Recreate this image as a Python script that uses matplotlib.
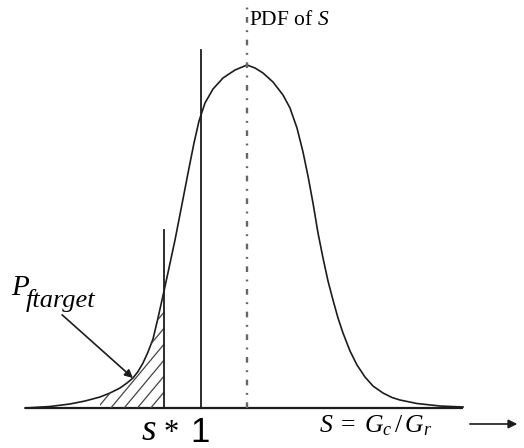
import numpy as np
import matplotlib
matplotlib.use("Agg")
import matplotlib.pyplot as plt

plt.rcParams.update({
    "font.family": "Liberation Serif",
    "mathtext.fontset": "custom",
    "mathtext.rm": "Liberation Serif",
    "mathtext.it": "Liberation Serif:italic",
    "mathtext.bf": "Liberation Serif:bold",
})

# ── Data (S in units of the "1" mark, pdf normalised to peak = 1) ────────────

s_left = [0.1241, 0.2481, 0.3474, 0.4218, 0.4963, 0.5459, 0.5955, 0.6303,
          0.6600, 0.6849, 0.7097, 0.7345, 0.7593, 0.7841, 0.8139, 0.8387,
          0.8685, 0.9082, 0.9380, 0.9628, 0.9876, 1.0174, 1.0571, 1.1067,
          1.1663, 1.2258]
pdf_left = [0.0000, 0.0044, 0.0117, 0.0204, 0.0321, 0.0437, 0.0583, 0.0729,
            0.0875, 0.1064, 0.1312, 0.1633, 0.2012, 0.2624, 0.3411, 0.4082,
            0.4898, 0.6093, 0.6997, 0.7726, 0.8367, 0.8892, 0.9300, 0.9621,
            0.9854, 1.0000]
s_right = [1.2655, 1.3052, 1.3548, 1.4045, 1.4392, 1.4739, 1.5037, 1.5285,
           1.5533, 1.5782, 1.6030, 1.6278, 1.6526, 1.6774, 1.7022, 1.7370,
           1.7717, 1.8114, 1.8511, 1.9007, 1.9454, 1.9851, 2.0695, 2.1836,
           2.2978]
pdf_right = [0.9913, 0.9767, 0.9504, 0.9125, 0.8746, 0.8163, 0.7464, 0.6764,
             0.5977, 0.5102, 0.4373, 0.3703, 0.3149, 0.2624, 0.2187, 0.1662,
             0.1254, 0.0904, 0.0641, 0.0437, 0.0306, 0.0233, 0.0131, 0.0058,
             0.0029]

s_star = 0.814          # target threshold s*
s_one = 1.0             # S = 1
s_peak = 1.226          # mode of the pdf
hatch_from = 0.44       # left edge of the hatched tail
s_star_top = 0.519      # height of the s* marker line
one_top = 1.044         # height of the S = 1 marker line

s = np.array(s_left + s_right)
pdf = np.array(pdf_left + pdf_right)

# ── Figure ───────────────────────────────────────────────────────────────────

fig = plt.figure(figsize=(5.24, 4.48), dpi=100)
ax = fig.add_axes([0, 0, 1, 1])
ax.set_xlim(0, 2.6005)
ax.set_ylim(-0.1166, 1.1895)
ax.axis("off")

ink = "#1c1c1c"

# baseline
ax.plot([s[0], s[-1]], [0, 0], color=ink, lw=1.6, solid_capstyle="butt")
# pdf curve
ax.plot(s, pdf, color=ink, lw=1.2, solid_joinstyle="round")

# hatched tail P_ftarget (lines clipped to the area under the curve)
mask = (s >= hatch_from) & (s < s_star)
tail_s = np.concatenate([s[mask], [s_star]])
tail_p = np.concatenate([pdf[mask], [np.interp(s_star, s, pdf)]])
tail = ax.fill_between(tail_s, 0, tail_p, facecolor="none", linewidth=0)
clip = tail.get_paths()[0]
slope = 0.705
step = 0.066
for k in range(12):
    x0 = s_star - k * step
    ln, = ax.plot([x0, x0 + 1.0], [0, slope], color="#444444", lw=0.9)
    ln.set_clip_path(clip, ax.transData)

# vertical markers
ax.plot([s_star, s_star], [0, s_star_top], color=ink, lw=1.3)
ax.plot([s_one, s_one], [0, one_top], color=ink, lw=1.3)
ax.plot([s_peak, s_peak], [0, 1.19], color="#666666", lw=1.7,
        linestyle=(0, (2.4, 3.2, 0.8, 3.2)))

# labels
ax.text(1.236, 1.117, r"PDF of $S$", fontsize=15.5, ha="left", va="baseline")
ax.text(0.055, 0.329, "P", fontsize=21, style="italic", ha="left", va="baseline")
ax.text(0.130, 0.294, "ftarget", fontsize=19, style="italic", ha="left", va="baseline")
ax.annotate("", xy=(0.670, 0.082), xytext=(0.298, 0.277),
            arrowprops=dict(arrowstyle="-|>", color=ink, lw=1.2, mutation_scale=12))

ax.text(0.737, -0.093, "s", fontsize=27, style="italic", ha="center", va="baseline")
ax.text(0.849, -0.096, "*", fontsize=22, ha="center", va="baseline")
ax.text(0.995, -0.099, "1", fontsize=25, family="Liberation Sans",
        ha="center", va="baseline")

ax.text(1.585, -0.070, r"$S\;=\;G_c\,/\,G_r$", fontsize=18.5, ha="left", va="baseline")
ax.annotate("", xy=(2.581, -0.0466), xytext=(2.318, -0.0466),
            arrowprops=dict(arrowstyle="-|>", color=ink, lw=1.2, mutation_scale=13))

fig.savefig("out.png", dpi=100)
